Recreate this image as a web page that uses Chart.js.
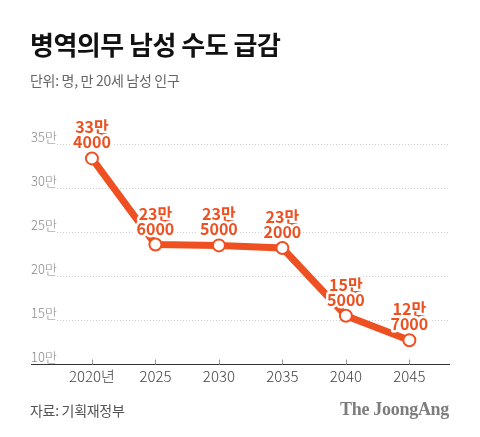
<!DOCTYPE html>
<html>
<head>
<meta charset="utf-8">
<script src="https://cdn.jsdelivr.net/npm/chart.js@4/dist/chart.umd.min.js"></script>
<style>
  body { margin: 0; background: #fff; }
  #wrap { position: relative; width: 480px; height: 437px; font-family: "Noto Sans CJK KR", "Noto Sans", sans-serif; }
  canvas { position: absolute; left: 0; top: 0; }
  .title { position: absolute; left: 30px; top: 31px; font-size: 26px; font-weight: 700; line-height: 1; color: #111; letter-spacing: -0.5px; }
  .sub { position: absolute; left: 30px; top: 73px; font-size: 14px; line-height: 1; color: #666; letter-spacing: -0.3px; }
  .source { position: absolute; left: 30px; top: 403px; font-size: 14px; line-height: 1; color: #555; letter-spacing: -0.3px; }
  .logo { position: absolute; right: 31px; top: 400px; font-family: "Liberation Serif", serif; font-weight: 700; font-size: 18px; line-height: 1; color: #7d7d7d; letter-spacing: -0.3px; }
</style>
</head>
<body>
<div id="wrap">
  <canvas id="popChart" width="480" height="437"></canvas>
  <div class="title">병역의무 남성 수도 급감</div>
  <div class="sub">단위: 명, 만 20세 남성 인구</div>
  <div class="source">자료: 기획재정부</div>
  <div class="logo">The JoongAng</div>
</div>
<script>
const years = [2020, 2025, 2030, 2035, 2040, 2045];
const population = [334000, 236000, 235000, 232000, 155000, 127000];
const yTicks = [100000, 150000, 200000, 250000, 300000, 350000];

const orange = '#EE5022';

// splits 334000 -> ['33만', '4000']
function splitLabel(v) {
  return [Math.floor(v / 10000) + '만', String(v % 10000)];
}

const decorPlugin = {
  id: 'decor',
  beforeDatasetsDraw(chart) {
    const { ctx, chartArea, scales: { x, y } } = chart;
    ctx.save();
    // dotted gridlines
    ctx.strokeStyle = '#cfcfcf';
    ctx.lineWidth = 1;
    ctx.setLineDash([1, 2]);
    yTicks.slice(1).forEach(v => {
      const py = Math.round(y.getPixelForValue(v)) + 0.5;
      ctx.beginPath();
      ctx.moveTo(57, py);
      ctx.lineTo(chartArea.right, py);
      ctx.stroke();
    });
    ctx.setLineDash([]);
    // baseline and small upward ticks
    const by = Math.round(chartArea.bottom) + 0.5;
    ctx.strokeStyle = '#333';
    ctx.beginPath();
    ctx.moveTo(chartArea.left, by);
    ctx.lineTo(chartArea.right, by);
    ctx.stroke();
    ctx.strokeStyle = '#999';
    years.forEach(yr => {
      const px = Math.round(x.getPixelForValue(yr)) + 0.5;
      ctx.beginPath();
      ctx.moveTo(px, by - 5);
      ctx.lineTo(px, by);
      ctx.stroke();
    });
    ctx.restore();
  },
  afterDatasetsDraw(chart) {
    const { ctx } = chart;
    const meta = chart.getDatasetMeta(0);
    ctx.save();
    ctx.font = 'bold 16px "Noto Sans CJK KR", sans-serif';
    ctx.textAlign = 'center';
    ctx.textBaseline = 'middle';
    ctx.lineJoin = 'round';
    meta.data.forEach((pt, i) => {
      const lines = splitLabel(population[i]);
      const cy = [pt.y - 31, pt.y - 16];
      lines.forEach((t, j) => {
        ctx.strokeStyle = '#fff';
        ctx.lineWidth = 5;
        ctx.strokeText(t, pt.x, cy[j]);
        ctx.fillStyle = orange;
        ctx.fillText(t, pt.x, cy[j]);
      });
    });
    ctx.restore();
  }
};

const ctx = document.getElementById('popChart').getContext('2d');
new Chart(ctx, {
  type: 'line',
  data: {
    datasets: [{
      data: years.map((yr, i) => ({ x: yr, y: population[i] })),
      borderColor: orange,
      borderWidth: 7,
      pointBackgroundColor: '#fff',
      pointBorderColor: orange,
      pointBorderWidth: 2,
      pointRadius: 6,
      tension: 0
    }]
  },
  options: {
    responsive: false,
    animation: false,
    layout: { padding: { left: 23, right: 30, top: 118, bottom: 49 } },
    scales: {
      x: {
        type: 'linear',
        min: 2015.2,
        max: 2048.2,
        afterBuildTicks: s => { s.ticks = years.map(v => ({ value: v })); },
        grid: { display: false, drawTicks: false },
        border: { display: false },
        ticks: {
          padding: 3,
          color: '#444',
          font: { family: '"Noto Sans CJK KR", sans-serif', size: 15, weight: '300' },
          callback: v => v === 2020 ? '2020년' : String(v)
        }
      },
      y: {
        min: 100000,
        max: 380000,
        afterBuildTicks: s => { s.ticks = yTicks.map(v => ({ value: v })); },
        grid: { display: false },
        border: { display: false },
        ticks: {
          mirror: true,
          padding: 0,
          labelOffset: -7,
          color: '#888',
          font: { family: '"Noto Sans CJK KR", sans-serif', size: 13, weight: '300' },
          callback: v => (v / 10000) + '만'
        }
      }
    },
    plugins: {
      legend: { display: false },
      tooltip: { enabled: false }
    }
  },
  plugins: [decorPlugin]
});
</script>
</body>
</html>
